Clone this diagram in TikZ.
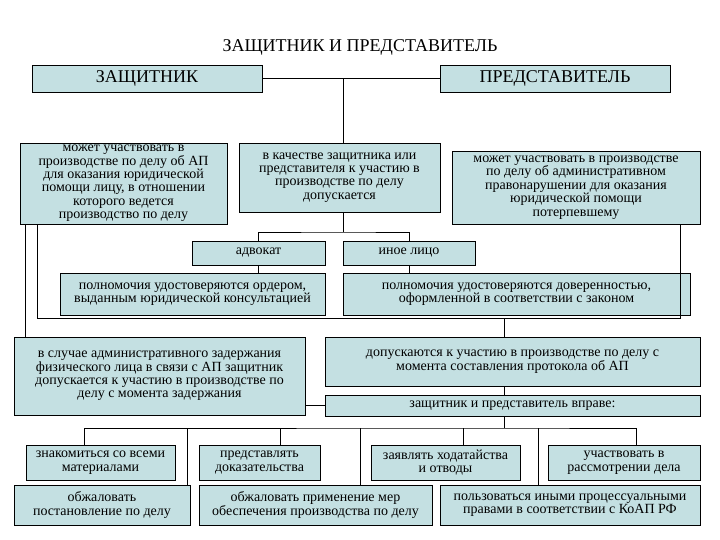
\documentclass[tikz,border=0pt]{standalone}
\usepackage{fontspec}
\setmainfont{Liberation Serif}
\begin{document}
\begin{tikzpicture}[x=1pt,y=-1pt,
  box/.style={draw=black,fill={rgb,255:red,196;green,224;blue,226},inner sep=0pt,align=center,font=\fontsize{14}{13.4}\selectfont},
  big/.style={box,font=\fontsize{18}{18}\selectfont},
  ln/.style={draw=black,line width=0.8pt}]
\useasboundingbox (0,0) rectangle (720,540);
\node[font=\fontsize{18}{18}\selectfont] (title) at (360,47) {ЗАЩИТНИК И ПРЕДСТАВИТЕЛЬ};
\node[big,minimum width=230,minimum height=27] (z) at (147,78.5) {ЗАЩИТНИК};
\node[big,minimum width=230,minimum height=27] (p) at (555,78.5) {ПРЕДСТАВИТЕЛЬ};
\node[box,minimum width=207,minimum height=81] (zl) at (123.5,183.5) {может участвовать в\\производстве по делу об АП\\для оказания юридической\\помощи лицу, в отношении\\которого ведется\\производство по делу};
\node[box,minimum width=201,minimum height=69] (c) at (339.5,177.5) {в качестве защитника или\\представителя к участию в\\производстве по делу\\допускается};
\node[box,minimum width=248,minimum height=73] (pr) at (576,187.5) {может участвовать в производстве\\по делу об административном\\правонарушении для оказания\\юридической помощи\\потерпевшему};
\node[box,minimum width=133,minimum height=24] (adv) at (258.5,253) {адвокат};
\node[box,minimum width=132,minimum height=24] (in) at (409,253) {иное лицо};
\node[box,minimum width=265,minimum height=42] (pl) at (192.5,294) {полномочия удостоверяются ордером,\\выданным юридической консультацией};
\node[box,minimum width=347,minimum height=42] (pp) at (516.5,294) {полномочия удостоверяются доверенностью,\\оформленной в соответствии с законом};
\node[box,minimum width=291,minimum height=78] (cs) at (159.5,376) {в случае административного задержания\\физического лица в связи с АП защитник\\допускается к участию в производстве по\\делу с момента задержания};
\node[box,minimum width=375,minimum height=49] (dp) at (512.5,361.5) {допускаются к участию в производстве по делу с\\момента составления протокола об АП};
\node[box,minimum width=375,minimum height=21] (vp) at (512.5,405.5) {защитник и представитель вправе:};
\node[box,minimum width=149,minimum height=35] (r1) at (100.5,462.5) {знакомиться со всеми\\материалами};
\node[box,minimum width=121,minimum height=35] (r2) at (259.5,462.5) {представлять\\доказательства};
\node[box,minimum width=149,minimum height=35] (r3) at (445.5,462.5) {заявлять ходатайства\\и отводы};
\node[box,minimum width=152,minimum height=35] (r4) at (624,462.5) {участвовать в\\рассмотрении дела};
\node[box,minimum width=176,minimum height=40] (b1) at (102,505) {обжаловать\\постановление по делу};
\node[box,minimum width=233,minimum height=40] (b2) at (315.5,505) {обжаловать применение мер\\обеспечения производства по делу};
\node[box,minimum width=260,minimum height=40] (b3) at (570,505) {пользоваться иными процессуальными\\правами в соответствии с КоАП РФ};
\coordinate (j1) at (343,78.5);
\coordinate (j2) at (343,232);
\draw[ln] (z.east) -- (p.west);
\draw[ln] (j1) -- (j1|-c.north);
\draw[ln] (j2|-c.south) -- (j2);
\draw[ln] (adv.north) |- (j2) -| (in.north);
\draw[ln] (adv.south) -- (adv.south|-pl.north);
\draw[ln] (in.south) -- (in.south|-pp.north);
\coordinate (lp) at (37,318);
\coordinate (rp) at (680,318);
\draw[ln] (zl.south-|lp) -- (lp) -- (rp) -- (pr.south-|rp);
\draw[ln] (zl.south-|25,0) -- (cs.north-|25,0);
\draw[ln] (504,318) -- (dp.north-|504,0);
\draw[ln] (dp.south-|504,0) -- (vp.north-|504,0);
\draw[ln] (cs.east|-vp.west) -- (vp.west);
\coordinate (h) at (504,428);
\draw[ln] (vp.south-|h) -- (h);
\draw[ln] (r1.north-|84,0) |- (h) -| (r4.north-|636,0);
\draw[ln] (r2.north-|280,0) -- (280,428);
\draw[ln] (r3.north-|463,0) -- (463,428);
\draw[ln] (b1.north-|187,0) -- (187,428);
\draw[ln] (b2.north-|360,0) -- (360,428);
\draw[ln] (b3.north-|538,0) -- (538,428);
\end{tikzpicture}
\end{document}
